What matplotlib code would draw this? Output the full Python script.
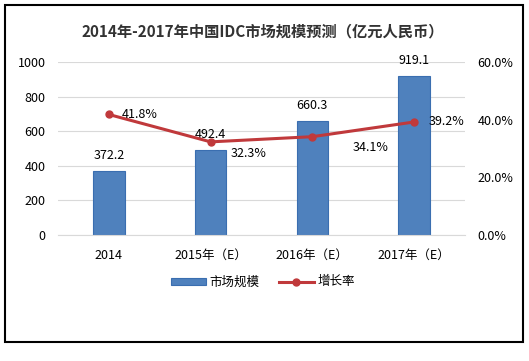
import matplotlib.pyplot as plt
from matplotlib.patches import Rectangle
from matplotlib.ticker import FuncFormatter

plt.rcParams['font.family'] = ['Noto Sans CJK SC', 'DejaVu Sans']

# data
years = ['2014', '2015年（E）', '2016年（E）', '2017年（E）']
market = [372.2, 492.4, 660.3, 919.1]
growth = [41.8, 32.3, 34.1, 39.2]

bar_color = '#4F81BD'
line_color = '#C0393B'

fig = plt.figure(figsize=(5.29, 3.61), dpi=100)
ax = fig.add_axes([58/529, 1-235/361, 407/529, 173/361])
ax2 = ax.twinx()

x = list(range(len(years)))
ax.bar(x, market, width=0.31, color=bar_color, edgecolor='#3A6EB0', linewidth=0.8,
       label='市场规模', zorder=2)
ax.set_xlim(-0.5, 3.5)
ax.set_ylim(0, 1000)
ax.set_yticks(range(0, 1001, 200))
ax.yaxis.grid(True, color='#D9D9D9', linewidth=0.8)
ax.set_axisbelow(True)
ax.set_xticks(x)
ax.set_xticklabels(years, fontsize=9)
ax.tick_params(length=0, labelsize=9, pad=9)
ax.tick_params(axis='x', pad=10)
for s in ax.spines.values():
    s.set_visible(False)
ax.spines['bottom'].set_visible(True)
ax.spines['bottom'].set_color('#D9D9D9')

for i, v in enumerate(market):
    ax.annotate('%.1f' % v, (i, v), xytext=(0, 15), textcoords='offset pixels',
                ha='center', va='center', fontsize=9)

ax2.plot(x, growth, color=line_color, linewidth=2.2, marker='o', markersize=5,
         label='增长率', zorder=3)
ax2.set_ylim(0, 60)
ax2.set_yticks(range(0, 61, 20))
ax2.yaxis.set_major_formatter(FuncFormatter(lambda v, p: '%.1f%%' % v))
ax2.tick_params(length=0, labelsize=9, pad=9)
for s in ax2.spines.values():
    s.set_visible(False)

offsets = [(13, 0), (20, -12), (40, -11), (15, 0)]
for i, v in enumerate(growth):
    ax2.annotate('%.1f%%' % v, (i, v), xytext=offsets[i], textcoords='offset pixels',
                 ha='left', va='center', fontsize=9)

h1, l1 = ax.get_legend_handles_labels()
h2, l2 = ax2.get_legend_handles_labels()
fig.legend(h1 + h2, l1 + l2, loc='center', bbox_to_anchor=(263/529, 1-282/361),
           ncol=2, frameon=False, fontsize=9, handlelength=2.8, handleheight=0.5,
           columnspacing=1.5, handletextpad=0.3)

fig.text(263/529, 1-31/361, '2014年-2017年中国IDC市场规模预测（亿元人民币）',
         ha='center', va='center', fontsize=11, fontweight='bold', color='#333333')

fig.patches.append(Rectangle((5/529, 1-342/361), 518/529, 337/361, transform=fig.transFigure,
                             fill=False, edgecolor='black', linewidth=1.5))

plt.savefig('out.png', dpi=100)
